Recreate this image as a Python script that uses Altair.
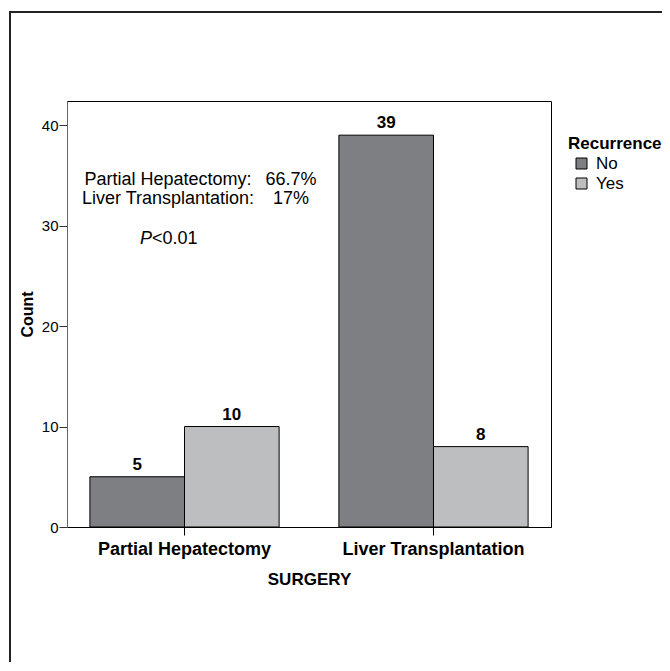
import altair as alt
import pandas as pd

surgery = ["Partial Hepatectomy", "Partial Hepatectomy", "Liver Transplantation", "Liver Transplantation"]
recurrence = ["No", "Yes", "No", "Yes"]
counts = [5, 10, 39, 8]

surgery_order = ["Partial Hepatectomy", "Liver Transplantation"]
rec_order = ["No", "Yes"]
rec_colors = ["#7e7f83", "#bdbec0"]

ann_labels = ["Partial Hepatectomy:", "Liver Transplantation:"]
ann_values = ["66.7%", "17%"]

FONT = "Liberation Sans"

df = pd.DataFrame({"SURGERY": surgery, "Recurrence": recurrence, "Count": counts})

W, H = 484, 426

base = alt.Chart(df).encode(
    x=alt.X("SURGERY:N", sort=surgery_order,
            scale=alt.Scale(paddingInner=0.24, paddingOuter=0.092),
            axis=alt.Axis(title="SURGERY", labelAngle=0, labelFontWeight="bold",
                          labelFontSize=18, labelColor="black", labelPadding=5,
                          labelLimit=400,
                          tickSize=8, tickColor="black", domainColor="black",
                          titleFontSize=17, titleFontWeight="bold", titlePadding=13,
                          titleColor="black", labelFont=FONT, titleFont=FONT)),
    xOffset=alt.XOffset("Recurrence:N", sort=rec_order,
                        scale=alt.Scale(paddingInner=0, paddingOuter=0)),
    y=alt.Y("Count:Q", scale=alt.Scale(domain=[0, 42.4], nice=False),
            axis=alt.Axis(title="Count", values=[0, 10, 20, 30, 40], grid=False,
                          labelFontSize=15, labelColor="black", tickSize=8,
                          tickColor="#333333", domainColor="#666666", labelPadding=1,
                          titleFontSize=16, titleFontWeight="bold", titleColor="black",
                          titlePadding=6, labelFont=FONT, titleFont=FONT)),
)

bars = base.mark_bar(stroke="black", strokeWidth=1).encode(
    color=alt.Color("Recurrence:N", sort=rec_order,
                    scale=alt.Scale(domain=rec_order, range=rec_colors),
                    legend=alt.Legend(orient="none", legendX=501, legendY=35,
                                      title="Recurrence", titleFontSize=17,
                                      titleFontWeight="bold", titleColor="black",
                                      titleFont=FONT, labelFont=FONT,
                                      labelFontSize=17, labelColor="black",
                                      symbolType="square", symbolSize=121,
                                      symbolStrokeColor="black", symbolStrokeWidth=1,
                                      symbolOffset=5, rowPadding=2, titlePadding=2,
                                      labelOffset=6, padding=0))
)

labels = base.mark_text(baseline="alphabetic", dy=-7, fontSize=17, fontWeight="bold",
                        font=FONT, color="black").encode(text="Count:Q")

dummy = alt.Chart(pd.DataFrame({"a": [0]}))

frame = dummy.mark_rect(fill=None, stroke="#222222", strokeWidth=2).encode(
    x=alt.value(-57), x2=alt.value(900), y=alt.value(-89), y2=alt.value(900))

ann_df = pd.DataFrame({"label": ann_labels, "value": ann_values, "row": [0, 1]})
ann_l = alt.Chart(ann_df).transform_calculate(py="78.5 + datum.row * 19").mark_text(
    align="center", baseline="middle", fontSize=18, font=FONT, color="black").encode(
    x=alt.value(101), y=alt.Y("py:Q", scale=None), text="label:N")
ann_v = alt.Chart(ann_df).transform_calculate(py="78.5 + datum.row * 19").mark_text(
    align="center", baseline="middle", fontSize=18, font=FONT, color="black").encode(
    x=alt.value(224), y=alt.Y("py:Q", scale=None), text="value:N")

p_italic = dummy.mark_text(align="left", baseline="middle", fontSize=18, font=FONT,
                           fontStyle="italic", color="black").encode(
    x=alt.value(73), y=alt.value(138), text=alt.value("P"))
p_rest = dummy.mark_text(align="left", baseline="middle", fontSize=18, font=FONT,
                         color="black").encode(
    x=alt.value(85), y=alt.value(138), text=alt.value("<0.01"))

chart = alt.layer(frame, bars, labels, ann_l, ann_v, p_italic, p_rest).properties(
    width=W, height=H,
    autosize=alt.AutoSizeParams(type="none"),
    padding={"left": 59, "top": 93, "right": 111, "bottom": 135},
).configure(font=FONT, background="white").configure_view(stroke="black", strokeWidth=1)

chart.save("out.html", embed_options={"renderer": "svg", "actions": False})
